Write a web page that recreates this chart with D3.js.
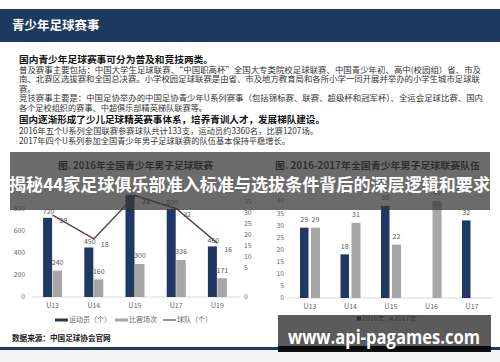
<!DOCTYPE html>
<html>
<head>
<meta charset="utf-8">
<script src="https://cdn.jsdelivr.net/npm/d3@7"></script>
<style>
  body { margin: 0; background: #fff; }
  svg { display: block; font-family: "Noto Sans CJK SC", "Noto Sans", sans-serif; }
</style>
</head>
<body>
<div id="chart-area"></div>
<script>
// chart 1: 2016 league
var cats1 = ["U13", "U14", "U15", "U17", "U19"];
var players = [720, 450, 930, 800, 460];
var matches = [240, 160, 300, 336, 171];
var teams = [29, 18, 38, 32, 16];
var yTicks1 = [0, 200, 400, 600, 800, 1000];
var y2Ticks1 = [5, 10, 15, 20, 25, 30, 35];
var legend1 = ["运动员（个）", "比赛场次", "球队（个）"];

// chart 2: teams 2016 vs 2017
var cats2 = ["U13", "U14", "U15", "U16", "U17"];
var teams2016 = [29, 18, 38, null, 32];
var teams2017 = [29, 31, 22, 40, null];
var yTicks2 = [0, 5, 10, 15, 20, 25, 30, 35, 40];
var legend2 = ["2016年", "2017年"];

var pageTitle = "青少年足球赛事";
var bodyLines = [
  {t: "国内青少年足球赛事可分为普及和竞技两类。", b: true, len: 194},
  {t: "普及赛事主要包括：中国大学生足球联赛、“中国职高杯”全国大专类院校足球联赛、中国青少年初、高中(校园组）省、市及", len: 462},
  {t: "南、北赛区选拔赛和全国总决赛。小学校园足球联赛是由省、市及地方教育局和各所小学一同开展并举办的小学生城市足球联", len: 461},
  {t: "赛。"},
  {t: "竞技赛事主要是：中国足协举办的中国足协青少年U系列赛事（包括锦标赛、联赛、超级杯和冠军杯）、全运会足球比赛、国内", len: 464},
  {t: "各个足校组织的赛事、中超俱乐部精英梯队联赛等。", len: 188},
  {t: "国内逐渐形成了少儿足球精英赛事体系，培养青训人才，发展梯队建设。", b: true, len: 306},
  {t: "2016年五个U系列全国联赛参赛球队共计133支，运动员约3360名，比赛1207场。", len: 299},
  {t: "2017年四个U系列参加全国青少年男子足球联赛的队伍基本保持平稳增长。", len: 271}
];
var lineY = [60, 70, 79.5, 89, 98.5, 108, 120, 131, 141];
var title1 = "图. 2016年全国青少年男子足球联赛";
var title2 = "图. 2016-2017年全国青少年男子足球联赛队伍";
var source = "数据来源：中国足球协会官网";
var banner = "揭秘44家足球俱乐部准入标准与选拔条件背后的深层逻辑和要求";
var watermark = "www.api-pagames.com";

var navy = "#1f3864", grey = "#a6a6a6", lineCol = "#5e3c4c", axisText = "#666";

var svg = d3.select("#chart-area").append("svg")
  .attr("width", 500).attr("height", 362);

// header
svg.append("rect").attr("x", 0).attr("y", 9).attr("width", 500).attr("height", 33).attr("fill", "#1f3a60");
svg.append("text").attr("x", 12).attr("y", 25.5).attr("dy", "0.35em")
  .attr("fill", "#fff").attr("font-size", "12.5px").attr("font-weight", "bold").text(pageTitle);

// body text
bodyLines.forEach(function(l, i) {
  var t = svg.append("text").attr("x", 19).attr("y", lineY[i]).attr("dy", "0.35em")
    .attr("fill", l.b ? "#111" : "#333")
    .attr("font-size", l.b ? "9.6px" : "8.3px")
    .attr("font-weight", l.b ? "bold" : "normal")
    .text(l.t);
  if (l.len) t.attr("textLength", l.len).attr("lengthAdjust", "spacingAndGlyphs");
});

// ---------- chart 1 ----------
var x1 = d3.scaleBand().domain(cats1).range([32, 238]);
var y1 = d3.scaleLinear().domain([0, 1000]).range([297, 187]);
var y2 = d3.scaleLinear().domain([0, 35]).range([278, 202]);
var c1 = function(d) { return x1(d) + x1.bandwidth() / 2; };

svg.append("line").attr("x1", 32).attr("x2", 240).attr("y1", 297).attr("y2", 297)
  .attr("stroke", "#d9d9d9");

svg.selectAll(".ytick1").data(yTicks1).enter().append("text")
  .attr("x", 25).attr("y", function(d) { return y1(d); }).attr("dy", "0.35em")
  .attr("text-anchor", "end").attr("font-size", "6.8px").attr("fill", axisText)
  .text(function(d) { return d; });

svg.selectAll(".y2tick1").data(y2Ticks1).enter().append("text")
  .attr("x", 244).attr("y", function(d) { return y2(d); }).attr("dy", "0.35em")
  .attr("font-size", "6.8px").attr("fill", axisText)
  .text(function(d) { return d; });
svg.append("text").attr("x", 244).attr("y", 297).attr("dy", "0.35em")
  .attr("font-size", "6.8px").attr("fill", axisText).text(0);

svg.selectAll(".bar-p").data(players).enter().append("rect")
  .attr("x", function(d, i) { return c1(cats1[i]) - 9.5; })
  .attr("y", function(d) { return y1(d); })
  .attr("width", 9)
  .attr("height", function(d) { return 297 - y1(d); })
  .attr("fill", navy);

svg.selectAll(".bar-m").data(matches).enter().append("rect")
  .attr("x", function(d, i) { return c1(cats1[i]); })
  .attr("y", function(d) { return y1(d); })
  .attr("width", 9.5)
  .attr("height", function(d) { return 297 - y1(d); })
  .attr("fill", grey);

svg.selectAll(".lab-p").data(players).enter().append("text")
  .attr("x", function(d, i) { return c1(cats1[i]) - 4; })
  .attr("y", function(d) { return y1(d) - 6; }).attr("dy", "0.35em")
  .attr("text-anchor", "middle").attr("font-size", "7px").attr("fill", "#555")
  .text(function(d) { return d; });

svg.selectAll(".lab-m").data(matches).enter().append("text")
  .attr("x", function(d, i) { return c1(cats1[i]) + 5; })
  .attr("y", function(d) { return y1(d) - 8; }).attr("dy", "0.35em")
  .attr("text-anchor", "middle").attr("font-size", "7px").attr("fill", "#555")
  .text(function(d) { return d; });

var teamLine = d3.line()
  .x(function(d, i) { return c1(cats1[i]); })
  .y(function(d) { return y2(d); });
svg.append("path").datum(teams).attr("d", teamLine)
  .attr("fill", "none").attr("stroke", lineCol).attr("stroke-width", 1.5);

svg.selectAll(".lab-t").data(teams).enter().append("text")
  .attr("x", function(d, i) { return c1(cats1[i]) + 7; })
  .attr("y", function(d) { return y2(d) + 6; }).attr("dy", "0.35em")
  .attr("font-size", "7px").attr("fill", "#555")
  .text(function(d) { return d; });

svg.selectAll(".xlab1").data(cats1).enter().append("text")
  .attr("x", function(d) { return c1(d); }).attr("y", 305.5).attr("dy", "0.35em")
  .attr("text-anchor", "middle").attr("font-size", "7px").attr("fill", axisText)
  .text(function(d) { return d; });

// legend 1
var leg1 = svg.append("g").attr("transform", "translate(0,320)");
var legX = [55, 115, 163];
legend1.forEach(function(name, i) {
  leg1.append("line").attr("x1", legX[i]).attr("x2", legX[i] + 13).attr("y1", 0).attr("y2", 0)
    .attr("stroke", i == 0 ? navy : (i == 1 ? grey : lineCol))
    .attr("stroke-width", i == 2 ? 1.2 : 3);
  leg1.append("text").attr("x", legX[i] + 14).attr("y", 0).attr("dy", "0.35em")
    .attr("font-size", "7px").attr("fill", axisText).text(name);
});

svg.append("text").attr("x", 12).attr("y", 338).attr("dy", "0.35em")
  .attr("font-size", "7.6px").attr("font-weight", "bold").attr("fill", "#222").text(source);

// ---------- chart 2 ----------
var x2 = d3.scaleBand().domain(cats2).range([289.75, 492.25]);
var yR = d3.scaleLinear().domain([0, 40]).range([298, 201]);
var c2 = function(d) { return x2(d) + x2.bandwidth() / 2; };

svg.append("line").attr("x1", 289).attr("x2", 493).attr("y1", 298).attr("y2", 298)
  .attr("stroke", "#d9d9d9");

svg.selectAll(".ytick2").data(yTicks2).enter().append("text")
  .attr("x", 284).attr("y", function(d) { return yR(d); }).attr("dy", "0.35em")
  .attr("text-anchor", "end").attr("font-size", "6.8px").attr("fill", axisText)
  .text(function(d) { return d; });

var s2016 = cats2.map(function(c, i) { return {c: c, v: teams2016[i]}; }).filter(function(d) { return d.v != null; });
var s2017 = cats2.map(function(c, i) { return {c: c, v: teams2017[i]}; }).filter(function(d) { return d.v != null; });

svg.selectAll(".bar16").data(s2016).enter().append("rect")
  .attr("x", function(d) { return c2(d.c) - 10; })
  .attr("y", function(d) { return yR(d.v); })
  .attr("width", 8.5)
  .attr("height", function(d) { return 298 - yR(d.v); })
  .attr("fill", navy);

svg.selectAll(".bar17").data(s2017).enter().append("rect")
  .attr("x", function(d) { return c2(d.c) + 1; })
  .attr("y", function(d) { return yR(d.v); })
  .attr("width", 9)
  .attr("height", function(d) { return 298 - yR(d.v); })
  .attr("fill", grey);

svg.selectAll(".lab16").data(s2016).enter().append("text")
  .attr("x", function(d) { return c2(d.c) - 5.75; })
  .attr("y", function(d) { return yR(d.v) - 8; }).attr("dy", "0.35em")
  .attr("text-anchor", "middle").attr("font-size", "7px").attr("fill", "#555")
  .text(function(d) { return d.v; });

svg.selectAll(".lab17").data(s2017).enter().append("text")
  .attr("x", function(d) { return c2(d.c) + 5.5; })
  .attr("y", function(d) { return yR(d.v) - 8; }).attr("dy", "0.35em")
  .attr("text-anchor", "middle").attr("font-size", "7px").attr("fill", "#555")
  .text(function(d) { return d.v; });

svg.selectAll(".xlab2").data(cats2).enter().append("text")
  .attr("x", function(d) { return c2(d); }).attr("y", 307).attr("dy", "0.35em")
  .attr("text-anchor", "middle").attr("font-size", "7px").attr("fill", axisText)
  .text(function(d) { return d; });

var leg2 = svg.append("g").attr("transform", "translate(0,318.5)");
var leg2X = [357, 389];
legend2.forEach(function(name, i) {
  leg2.append("rect").attr("x", leg2X[i]).attr("y", -2).attr("width", 4).attr("height", 4)
    .attr("fill", i == 0 ? navy : grey);
  leg2.append("text").attr("x", leg2X[i] + 5).attr("y", 0).attr("dy", "0.35em")
    .attr("font-size", "7px").attr("fill", axisText).text(name);
});

// chart titles
svg.append("text").attr("x", 58).attr("y", 166).attr("dy", "0.35em")
  .attr("font-size", "9.6px").attr("font-weight", "bold").attr("fill", "#111")
  .attr("textLength", 155).attr("lengthAdjust", "spacingAndGlyphs").text(title1);
svg.append("text").attr("x", 275).attr("y", 166).attr("dy", "0.35em")
  .attr("font-size", "9.6px").attr("font-weight", "bold").attr("fill", "#111")
  .attr("textLength", 205).attr("lengthAdjust", "spacingAndGlyphs").text(title2);

// bottom rule
svg.append("rect").attr("x", 0).attr("y", 347).attr("width", 500).attr("height", 3).attr("fill", "#1f3a60");
svg.append("rect").attr("x", 0).attr("y", 350).attr("width", 500).attr("height", 12).attr("fill", "#f4f4f4");

// overlay banner
svg.append("rect").attr("x", 10).attr("y", 152).attr("width", 480).attr("height", 58)
  .attr("fill", "rgba(55,55,55,0.74)");
svg.append("text").attr("x", 9).attr("y", 185).attr("dy", "0.35em")
  .attr("font-size", "17.5px").attr("font-weight", "bold").attr("fill", "#fff")
  .attr("textLength", 481).attr("lengthAdjust", "spacingAndGlyphs").text(banner);

// watermark box
svg.append("rect").attr("x", 278).attr("y", 315).attr("width", 213).attr("height", 37)
  .attr("fill", "rgba(45,45,45,0.78)");
svg.append("rect").attr("x", 278).attr("y", 346).attr("width", 213).attr("height", 6)
  .attr("fill", "rgba(0,0,0,0.85)");
svg.append("text").attr("x", 288).attr("y", 337).attr("dy", "0.35em")
  .attr("font-size", "19px").attr("font-weight", "bold").attr("fill", "#fff")
  .attr("font-family", "'Open Sans', sans-serif")
  .attr("textLength", 192).attr("lengthAdjust", "spacingAndGlyphs").text(watermark);
</script>
</body>
</html>
